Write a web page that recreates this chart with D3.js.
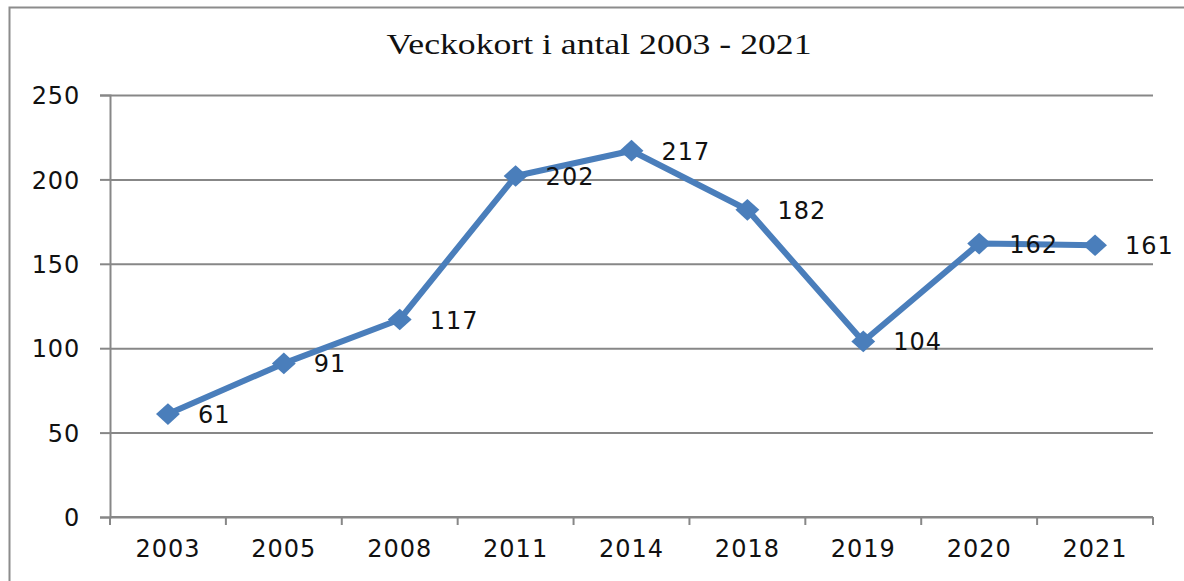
<!DOCTYPE html>
<html><head><meta charset="utf-8">
<script src="https://cdn.jsdelivr.net/npm/d3@7"></script>
<style>body{margin:0;background:#fff}svg{display:block}</style>
</head><body>
<svg id="c" width="1184" height="581"></svg>
<script>
const title = "Veckokort i antal 2003 - 2021";
const categories = ["2003","2005","2008","2011","2014","2018","2019","2020","2021"];
const values = [61,91,117,202,217,182,104,162,161];
const yTicks = [0,50,100,150,200,250];

const svg = d3.select("#c");
const m = {left:110, right:1153, top:95, bottom:517};
const font = "DejaVu Sans, Verdana, sans-serif";

svg.append("rect").attr("x",9.5).attr("y",7.5).attr("width",1200).attr("height",600)
  .attr("fill","none").attr("stroke","#8c8c8c").attr("stroke-width",2);

svg.append("text").attr("x",599).attr("y",54).attr("text-anchor","middle")
  .attr("font-family","Liberation Serif, Times New Roman, serif").attr("font-size",30)
  .attr("textLength",425).attr("lengthAdjust","spacingAndGlyphs")
  .attr("fill","#111").text(title);

const x = d3.scaleBand().domain(categories).range([m.left,m.right]).padding(0);
const y = d3.scaleLinear().domain([0,250]).range([m.bottom,m.top]);

const gridCol = "#878787";
const ya = svg.append("g").attr("transform",`translate(${m.left},0)`)
  .call(d3.axisLeft(y).tickValues(yTicks).tickSize(10).tickPadding(20).tickFormat(d3.format("d")));
ya.select(".domain").attr("stroke",gridCol).attr("stroke-width",2);
ya.selectAll(".tick line").attr("stroke",gridCol).attr("stroke-width",2);
ya.selectAll(".tick text").attr("font-family",font)
  .attr("font-size",24).attr("fill","#111").attr("letter-spacing",0.8).attr("dy","0.36em");
ya.selectAll(".tick").append("line").attr("x1",0).attr("x2",m.right-m.left)
  .attr("stroke",gridCol).attr("stroke-width",2);

const xa = svg.append("g").attr("transform",`translate(0,${m.bottom})`)
  .call(d3.axisBottom(x).tickSize(0).tickPadding(23));
xa.select(".domain").remove();
xa.append("line").attr("x1",m.left).attr("x2",m.right).attr("stroke",gridCol).attr("stroke-width",2);
xa.selectAll(".tick text").attr("font-family",font)
  .attr("font-size",24).attr("fill","#111").attr("letter-spacing",1);
const edges = categories.map(c=>x(c)).concat([x(categories[categories.length-1])+x.bandwidth()]);
xa.selectAll(".edge").data(edges).enter().append("line").attr("class","edge")
  .attr("x1",d=>d).attr("x2",d=>d).attr("y1",0).attr("y2",8)
  .attr("stroke",gridCol).attr("stroke-width",2);

const cx = c => x(c)+x.bandwidth()/2;
const blue = "#4a7ebb";
const line = d3.line().x((d,i)=>cx(categories[i])).y(d=>y(d));
svg.append("path").datum(values).attr("d",line).attr("fill","none")
  .attr("stroke",blue).attr("stroke-width",6).attr("stroke-linejoin","round");

const sym = d3.symbol().type(d3.symbolDiamond2).size(300);
svg.selectAll(".mk").data(values).enter().append("path")
  .attr("transform",(d,i)=>`translate(${cx(categories[i])},${y(d)}) scale(1.1,1)`)
  .attr("d",sym).attr("fill",blue);

svg.selectAll(".lbl").data(values).enter().append("text")
  .attr("x",(d,i)=>cx(categories[i])+30).attr("y",d=>y(d)+9)
  .attr("font-family",font).attr("font-size",24)
  .attr("letter-spacing",1).attr("fill","#111").text(d=>d);
</script>
</body></html>
